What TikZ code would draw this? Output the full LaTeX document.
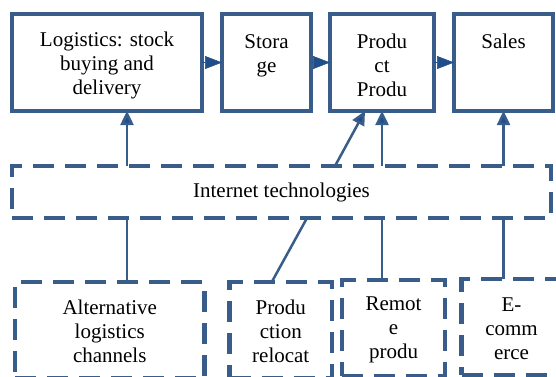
\documentclass[tikz,border=0pt]{standalone}
\usepackage{fontspec}
\setmainfont{Liberation Serif}
\usetikzlibrary{positioning, arrows.meta}

\definecolor{boxblue}{RGB}{56,93,138}
\definecolor{tipblue}{RGB}{31,78,138}

\begin{document}
\begin{tikzpicture}[
      x=1pt, y=-1pt,
      font=\fontsize{21}{24}\selectfont,
      stage/.style = {rectangle, draw=boxblue, line width=4.5pt, outer sep=0pt,
                      minimum height=97pt, align=center, inner sep=2pt,
                      text height=68pt},
      tech/.style  = {rectangle, draw=boxblue, line width=4.5pt, outer sep=0pt,
                      dash pattern=on 21pt off 11pt, minimum height=96pt,
                      align=center, inner sep=2pt},
      effect/.style = {tech, text height=66pt},
      link/.style  = {draw=boxblue, line width=2.5pt},
      arr/.style   = {link, -{Triangle[length=14pt, width=13pt, fill=tipblue]}},
      flow/.style  = {draw=tipblue, line width=0.5pt,
                      -{Triangle[length=17pt, width=13pt, fill=tipblue]}},
    ]
    \useasboundingbox (0,0) rectangle (556,376);
    \clip (0,0) rectangle (556,376);

    % Chain of stages
    \node[stage, minimum width=190pt] (log) at (107,62.5)
          {Logistics: stock\\buying and\\delivery};
    \node[stage, minimum width=89pt,  right=20pt of log] (sto) {Stora\\ge\\\mbox{}};
    \node[stage, minimum width=104pt, right=19pt of sto] (pro) {Produ\\ct\\Produ};
    \node[stage, minimum width=99pt,  right=20pt of pro] (sal) {Sales\\\mbox{}\\\mbox{}};

    \draw[flow] (log) -- (sto);
    \draw[flow] (sto) -- (pro);
    \draw[flow] (pro) -- (sal);

    % Internet technologies
    \node[tech, minimum width=539pt, minimum height=52pt,
          below=55pt of log.south west, anchor=north west] (net) {Internet technologies};

    % Effects
    \node[effect, minimum width=189.5pt, below=64pt of net.south west,
          anchor=north west, xshift=3pt] (alt) {Alternative\\logistics\\channels};
    \node[effect, minimum width=102.5pt, right=25pt of alt.north east,
          anchor=north west] (rel) {Produ\\ction\\relocat};
    \node[effect, minimum width=103pt, right=10pt of rel.north east,
          anchor=north west, yshift=2pt] (rem) {Remot\\e\\produ};
    \node[effect, minimum width=100pt, right=16.5pt of rem.north east,
          anchor=north west, yshift=1pt] (eco) {E-\\comm\\erce};

    \coordinate (logport)  at ([xshift=20pt]log.south);
    \coordinate (proslant) at ([xshift=-17pt]pro.south);
    \coordinate (slantup)  at ([xshift=-47pt]pro.south);
    \coordinate (slantdn)  at ([xshift=-75pt]pro.south);

    % Links through the internet
    \draw[arr]  (logport |- net.north) -- (logport);
    \draw[link] (logport |- alt.north) -- (logport |- net.south);
    \draw[arr]  (slantup |- net.north) -- (proslant);
    \draw[arr]  (pro.south |- net.north) -- (pro.south);
    \draw[link] (slantdn |- net.south) -- ([xshift=-9pt]rel.north);
    \draw[link] (pro.south |- rem.north) -- (pro.south |- net.south);
    \draw[arr]  (sal.south |- net.north) -- (sal.south);
    \draw[link] (sal.south |- eco.north) -- (sal.south |- net.south);
  \end{tikzpicture}
\end{document}
